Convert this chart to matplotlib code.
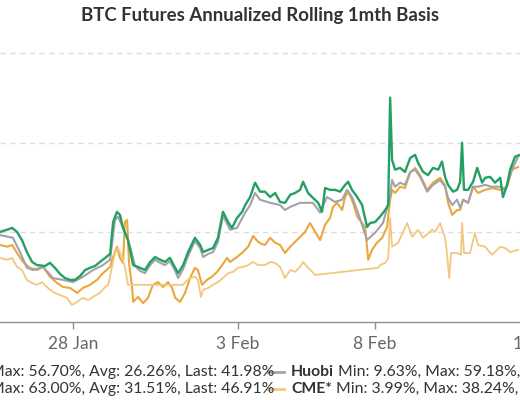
import matplotlib
matplotlib.use("Agg")
import matplotlib.pyplot as plt
from matplotlib.lines import Line2D

plt.rcParams['font.family'] = ['Lato', 'DejaVu Sans']

# x = days after 28 Jan, y = annualized basis in %
okx_days = [-2.66, -2.40, -2.22, -2.04, -1.82, -1.57, -1.31, -1.09, -0.84, -0.58, -0.36, -0.11, 0.15, 0.36,
            0.62, 0.87, 1.09, 1.35, 1.46, 1.60, 1.71, 1.82, 1.89, 1.97, 2.04, 2.15, 2.19, 2.37, 2.55, 2.73,
            2.91, 3.10, 3.28, 3.46, 3.61, 3.72, 3.90, 4.08, 4.26, 4.44, 4.55, 4.70, 4.88, 5.06, 5.25, 5.43,
            5.61, 5.72, 5.97, 6.19, 6.38, 6.56, 6.74, 6.88, 6.99, 7.18, 7.36, 7.54, 7.72, 7.91, 8.09, 8.27,
            8.45, 8.63, 8.82, 9.00, 9.18, 9.36, 9.47, 9.62, 9.80, 9.91, 10.02, 10.20, 10.35, 10.53, 10.64,
            10.75, 10.89, 11.07, 11.26, 11.44, 11.55, 11.62, 11.73, 11.91, 12.09, 12.28, 12.46, 12.64, 12.90,
            13.11, 13.37, 13.55, 13.66, 13.81, 13.99, 14.10, 14.21, 14.39, 14.57, 14.75, 15.01, 15.26, 15.56,
            15.81, 15.99, 16.21]
okx_vals = [17.2, 16.8, 17.2, 15.4, 13.4, 12.1, 11.6, 12.3, 10.1, 8.7, 7.8, 7.6, 6.5, 7.6,
            8.3, 9.4, 10.9, 12.3, 14.5, 16.8, 14.3, 13.2, 22.3, 22.8, 13.2, 7.8, 4.5, 5.6, 4.2, 5.4,
            8.3, 8.9, 7.8, 8.9, 7.6, 5.4, 4.5, 6.5, 9.8, 12.1, 11.6, 8.3, 9.4, 10.1, 11.2, 12.7,
            14.3, 13.4, 14.5, 15.6, 16.8, 19.2, 17.9, 17.4, 17.2, 18.8, 17.7, 17.2, 15.4, 16.8, 17.9, 19.0,
            20.1, 22.1, 20.1, 18.3, 21.7, 23.2, 25.7, 26.6, 25.0, 27.9, 29.1, 26.6, 23.5, 22.1, 21.2,
            13.9, 16.1, 17.7, 18.8, 21.2, 27.3, 29.5, 28.8, 30.2, 29.9, 33.3, 34.4, 32.8, 29.5,
            31.1, 32.2, 30.6, 26.6, 23.9, 25.0, 25.0, 27.3, 26.6, 30.2, 28.8, 29.5, 29.9, 29.5,
            30.2, 34.0, 34.6]

huobi_days = [-2.66, -2.19, -1.93, -1.68, -1.46, -1.09, -0.73, -0.36, 0.00, 0.36, 0.73, 1.09, 1.35, 1.53,
              1.64, 1.97, 2.08, 2.26, 2.44, 2.62, 2.81, 2.99, 3.17, 3.35, 3.53, 3.72, 3.83, 4.01, 4.19,
              4.44, 4.63, 4.74, 4.92, 5.10, 5.28, 5.46, 5.65, 5.72, 5.97, 6.27, 6.45, 6.63, 6.81, 7.18,
              7.54, 7.72, 7.91, 8.27, 8.74, 9.00, 9.25, 9.54, 9.80, 9.98, 10.16, 10.38, 10.71, 11.00,
              11.29, 11.55, 11.62, 11.73, 11.91, 12.09, 12.28, 12.46, 12.64, 12.90, 13.11, 13.37, 13.55,
              13.66, 13.81, 13.99, 14.10, 14.21, 14.39, 14.57, 14.75, 15.01, 15.26, 15.56, 15.74, 15.99,
              16.21]
huobi_vals = [19.4, 18.8, 15.6, 12.1, 11.6, 12.3, 9.8, 9.4, 8.9, 10.1, 11.6, 12.7, 13.9, 22.8,
              23.5, 19.0, 16.8, 12.5, 11.4, 10.9, 12.7, 13.9, 13.2, 12.7, 13.6, 11.4, 9.8, 11.8, 14.7,
              18.1, 16.5, 14.5, 15.2, 15.6, 17.9, 23.7, 21.5, 20.6, 21.0, 24.4, 26.1, 28.8, 27.3, 26.6,
              26.1, 25.0, 25.7, 26.6, 26.6, 24.4, 27.9, 26.8, 27.3, 29.5, 27.9, 24.4, 18.3, 19.9,
              22.1, 27.9, 31.7, 30.2, 31.1, 30.6, 33.5, 34.0, 32.4, 29.1, 30.6, 31.7, 30.2,
              27.7, 26.1, 27.3, 25.5, 27.3, 26.6, 30.2, 30.2, 30.6, 30.2, 30.2, 29.5, 34.0,
              36.9]

bitmex_days = [-2.66, -2.40, -2.22, -2.04, -1.86, -1.68, -1.49, -1.31, -1.02, -0.84, -0.66, -0.47, -0.29,
               -0.11, 0.07, 0.26, 0.44, 0.62, 0.80, 0.98, 1.17, 1.35, 1.46, 1.60, 1.71, 1.82, 2.00, 2.19,
               2.44, 2.62, 2.81, 2.99, 3.17, 3.35, 3.53, 3.72, 3.83, 4.01, 4.19, 4.44, 4.63, 4.74, 4.92,
               5.10, 5.28, 5.46, 5.65, 5.79, 5.97, 6.16, 6.27, 6.45, 6.63, 6.74, 6.81, 6.99, 7.18, 7.36,
               7.54, 7.72, 7.91, 8.09, 8.27, 8.38, 8.56, 8.74, 8.93, 9.07, 9.18, 9.36, 9.54, 9.73, 9.91,
               10.02, 10.16, 10.35, 10.53, 10.71, 10.82, 11.00, 11.18, 11.37, 11.48, 11.55, 11.62, 11.73,
               11.91, 12.09, 12.28, 12.46, 12.57, 12.75, 12.93, 13.11, 13.30, 13.44, 13.55, 13.66, 13.84,
               13.99, 14.10, 14.17, 14.24, 14.39, 14.57, 14.72, 14.90, 15.01, 15.19, 15.37, 15.56, 15.66,
               15.81, 15.92, 16.10, 16.28]
bitmex_vals = [20.1, 20.6, 21.0, 20.1, 18.3, 15.6, 13.4, 12.7, 12.5, 13.2, 12.1, 10.7, 9.8,
               9.4, 9.4, 10.3, 11.6, 12.1, 12.5, 13.4, 14.3, 15.2, 22.3, 24.6, 23.9, 21.0, 18.3, 12.7,
               12.1, 11.6, 13.4, 14.5, 13.9, 13.4, 14.3, 12.1, 10.9, 12.7, 15.6, 18.8, 17.2, 15.6, 16.1,
               16.5, 18.8, 24.6, 22.3, 21.0, 23.2, 24.6, 26.1, 27.9, 31.1, 29.9, 29.1, 29.1, 27.9, 28.8,
               26.8, 26.6, 28.4, 28.8, 29.5, 31.3, 28.8, 27.7, 26.6, 24.6, 29.9, 29.5, 29.5, 29.1, 30.6,
               31.3, 29.5, 27.9, 26.1, 21.2, 22.1, 22.3, 23.5, 25.0, 26.1, 50.1, 36.2, 34.0,
               34.4, 33.5, 36.6, 37.3, 35.5, 33.5, 32.8, 34.4, 34.0, 35.8, 32.4, 30.6, 29.1,
               29.5, 31.3, 40.0, 29.5, 29.5, 31.3, 34.4, 31.1, 32.2, 32.4, 31.1, 32.2, 27.9,
               30.6, 34.0, 36.9, 37.3]

cme_days = [-2.66, -2.40, -2.22, -2.04, -1.86, -1.68, -1.49, -1.31, -1.13, -0.95, -0.73, -0.47, -0.22,
            -0.04, 0.15, 0.36, 0.55, 0.73, 0.98, 1.17, 1.28, 1.42, 1.53, 1.64, 1.79, 1.89, 2.00, 4.01,
            4.08, 4.26, 4.44, 4.55, 4.66, 4.74, 4.92, 5.10, 5.28, 5.46, 5.65, 5.83, 6.01, 6.19, 6.38,
            6.56, 6.74, 6.99, 7.18, 7.36, 7.54, 7.72, 7.91, 8.09, 8.27, 8.38, 8.56, 8.71, 8.82, 11.11,
            11.18, 11.37, 11.48, 11.55, 11.62, 11.84, 12.17, 12.35, 12.57, 12.75, 13.08, 13.19, 13.37,
            13.55, 13.62, 13.70, 13.77, 13.99, 14.13, 14.17, 14.24, 14.46, 14.64, 14.75, 15.01, 15.26,
            15.56, 15.74, 15.92, 16.21]
cme_vals = [14.3, 13.9, 14.3, 12.3, 11.6, 9.4, 8.7, 8.3, 8.9, 7.8, 6.7, 6.0, 5.4,
            3.8, 4.5, 5.4, 4.9, 5.6, 6.5, 7.8, 8.3, 12.3, 15.4, 16.5, 14.5, 12.3, 8.3, 8.3,
            8.9, 9.8, 10.1, 9.4, 5.6, 7.2, 7.6, 8.3, 8.9, 9.8, 10.9, 11.2, 12.1, 12.3, 12.7,
            13.4, 12.7, 12.7, 13.4, 13.2, 12.3, 9.8, 11.6, 11.2, 12.3, 13.4, 12.1, 11.2, 10.5, 12.1,
            12.7, 13.2, 14.3, 23.2, 16.8, 17.7, 22.1, 19.0, 20.6, 18.8, 20.6, 20.1, 22.1,
            18.8, 15.4, 9.8, 15.4, 15.4, 15.0, 22.1, 15.4, 15.4, 19.9, 17.2, 16.8, 15.0,
            16.8, 16.5, 15.6, 16.1]

tick_days = [0, 6, 11]
tick_labels = ['28 Jan', '3 Feb', '8 Feb']
# next label sits just past the right edge, only its first digit shows
edge_tick_day = 17
edge_tick_label = '14 Feb'
grid_levels = [20, 40, 60]

legend_rows = [
    ('Max: 56.70%, Avg: 26.26%, Last: 41.98%', '#a3a1ab', 'Huobi', ' Min: 9.63%, Max: 59.18%,'),
    ('Max: 63.00%, Avg: 31.51%, Last: 46.91%', '#f3c77e', 'CME*', ' Min: 3.99%, Max: 38.24%,'),
]

W, H = 520, 400
fig = plt.figure(figsize=(W / 100, H / 100), dpi=100)
fig.patch.set_facecolor('white')

# plot area: 0% at y=322px, 4.48px per %
ax = fig.add_axes([0, (H - 322) / H, 1, 62 * 4.48 / H])

for g in grid_levels:
    ax.axhline(g, color='#dedede', lw=1, ls=(0, (4, 3)), zorder=0)

ax.plot(okx_days, okx_vals, color='#eaa83a', lw=1.5, zorder=2)
ax.plot(huobi_days, huobi_vals, color='#a3a1ab', lw=1.5, zorder=3)
ax.plot(bitmex_days, bitmex_vals, color='#23a062', lw=1.7, zorder=4)
ax.plot(cme_days, cme_vals, color='#f3c77e', lw=1.3, zorder=5)

for s in ['top', 'left', 'right']:
    ax.spines[s].set_visible(False)
ax.spines['bottom'].set_color('#8f8f8f')
ax.spines['bottom'].set_linewidth(1)
ax.set_yticks([])
ax.set_xticks(tick_days)
ax.set_xticklabels(tick_labels)
ax.tick_params(axis='x', length=5, width=1, color='#8f8f8f', labelcolor='#666666',
               labelsize=12.5, pad=5)
ax.set_xlim(-2.66, 16.28)
ax.set_ylim(0, 62)

ax.annotate(edge_tick_label, xy=(edge_tick_day, 0), xycoords=('data', 'axes fraction'),
            xytext=(0, -10), textcoords='offset points', ha='center', va='top',
            fontsize=12.5, color='#666666', annotation_clip=False)

fig.text(0.5, 1 - 16 / H, 'BTC Futures Annualized Rolling 1mth Basis', ha='center', va='center',
         fontsize=13.4, fontweight='bold', color='#333333')

renderer = fig.canvas.get_renderer()
for i, (left_txt, sym_col, name, rest) in enumerate(legend_rows):
    yy = 1 - (372 + 17 * i) / H
    fig.text(274 / W, yy, left_txt, ha='right', va='center', fontsize=11.3, color='#333333')
    fig.add_artist(Line2D([268 / W, 284 / W], [yy, yy], color=sym_col, lw=2))
    t = fig.text(291 / W, yy, name, ha='left', va='center', fontsize=11.3, fontweight='bold',
                 color='#333333')
    bb = t.get_window_extent(renderer)
    fig.text(bb.x1 / W, yy, rest, ha='left', va='center', fontsize=11.3, color='#333333')

fig.savefig('out.png', dpi=100)
